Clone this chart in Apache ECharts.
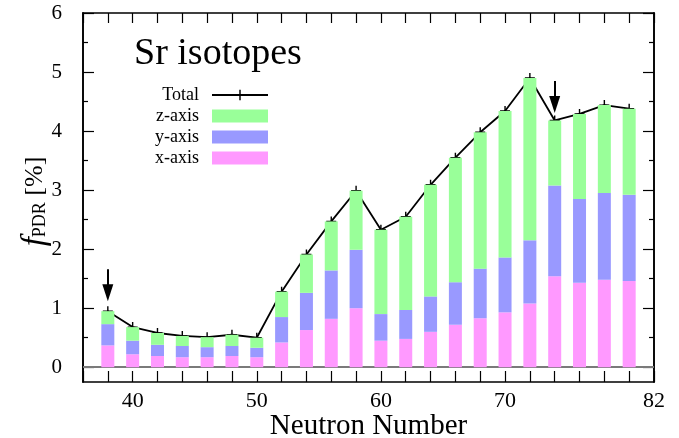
<!DOCTYPE html>
<html>
<head>
<meta charset="utf-8">
<script src="https://cdn.jsdelivr.net/npm/echarts@6/dist/echarts.min.js"></script>
<style>
  html, body { margin: 0; padding: 0; background: #fff; }
  #chart { width: 679px; height: 438px; }
</style>
</head>
<body>
<div id="chart"></div>
<script>
// PDR fraction per strontium isotope, split into the three axis components
const neutronNumbers = [38, 40, 42, 44, 46, 48, 50, 52, 54, 56, 58, 60, 62, 64, 66, 68, 70, 72, 74, 76, 78, 80];
const xAxisPart = [0.37, 0.22, 0.19, 0.17, 0.17, 0.19, 0.17, 0.42, 0.63, 0.82, 1.00, 0.45, 0.48, 0.60, 0.72, 0.83, 0.93, 1.08, 1.54, 1.43, 1.48, 1.46];
const yAxisPart = [0.36, 0.23, 0.19, 0.19, 0.17, 0.17, 0.16, 0.43, 0.63, 0.82, 0.99, 0.45, 0.49, 0.60, 0.72, 0.84, 0.93, 1.07, 1.54, 1.42, 1.47, 1.46];
const zAxisPart = [0.22, 0.23, 0.20, 0.17, 0.17, 0.19, 0.17, 0.43, 0.65, 0.83, 1.00, 1.43, 1.58, 1.89, 2.11, 2.31, 2.48, 2.75, 1.10, 1.44, 1.49, 1.46];

// axis range and tick labels
const xRange = [36, 82];
const xTickLabels = [40, 50, 60, 70, 82];
const yRange = [-0.25, 6];
const yTickLabels = [0, 1, 2, 3, 4, 5, 6];

// downward arrows: [neutron number, tail value, head centre value]
const arrowMarks = [[38, 1.66, 1.26], [74, 4.85, 4.45]];

const serif = 'Liberation Serif';

// one category slot every two neutrons across the full axis range
const categories = [];
for (let n = xRange[0]; n <= xRange[1]; n += 2) categories.push(String(n));
const slot = (arr) => categories.map(c => {
  const i = neutronNumbers.indexOf(+c);
  return i >= 0 ? arr[i] : null;
});
const totals = neutronNumbers.map((n, i) => +(xAxisPart[i] + yAxisPart[i] + zAxisPart[i]).toFixed(3));
const yMinorTicks = yTickLabels.slice(0, -1).map(v => v + 0.5);

const plusSymbol = 'path://M4.3,0H5.7V10H4.3ZM0,4.3H10V5.7H0Z';
const axisColor = '#000';

function yAxisDef(position, tickValues, tickLen, withLabels) {
  return {
    type: 'value', position: position, min: yRange[0], max: yRange[1],
    axisLine: { show: true, lineStyle: { color: axisColor, width: 1.6 } },
    axisTick: { show: true, inside: true, length: tickLen, customValues: tickValues,
      lineStyle: { color: axisColor, width: 1.2 } },
    axisLabel: {
      show: withLabels, margin: 21, fontFamily: serif, fontSize: 21, color: '#000',
      customValues: yTickLabels
    },
    splitLine: { show: false }
  };
}

function xAxisDef(position, tickLen, withLabels) {
  return {
    type: 'category', position: position, data: categories, boundaryGap: false,
    axisLine: { show: true, onZero: false, lineStyle: { color: axisColor, width: 1.6 } },
    axisTick: { show: true, inside: true, length: tickLen, interval: 0,
      lineStyle: { color: axisColor, width: 1.2 } },
    axisLabel: {
      show: withLabels, margin: 8, fontFamily: serif, fontSize: 22, color: '#000',
      interval: 0,
      formatter: v => (xTickLabels.indexOf(+v) >= 0 ? v : '')
    },
    splitLine: { show: false }
  };
}

const xBottom = xAxisDef('bottom', 11, true);
xBottom.name = 'Neutron Number';
xBottom.nameLocation = 'middle';
xBottom.nameGap = 30;
xBottom.nameMoveOverlap = false;
xBottom.nameTextStyle = { fontFamily: serif, fontSize: 29, color: '#000' };

const yLeft = yAxisDef('left', yTickLabels, 11, true);
yLeft.name = '{f|f}{sub|PDR} [%]';
yLeft.nameLocation = 'middle';
yLeft.nameRotate = 90;
yLeft.nameGap = 31;
yLeft.nameMoveOverlap = false;
yLeft.nameTextStyle = {
  fontFamily: serif, fontSize: 26, color: '#000', padding: [0, 8, 0, 0],
  rich: {
    f: { fontFamily: serif, fontStyle: 'italic', fontSize: 33, color: '#000' },
    sub: { fontFamily: serif, fontSize: 18, color: '#000', padding: [10, 0, 0, 0] }
  }
};

const barCommon = { type: 'bar', stack: 'pdr', barWidth: 13, xAxisIndex: 0, yAxisIndex: 0, z: 2 };

const option = {
  animation: false,
  backgroundColor: '#fff',
  title: {
    text: 'Sr isotopes', left: 134, top: 35, padding: 0,
    textStyle: { fontFamily: serif, fontSize: 38, fontWeight: 'normal', color: '#000' }
  },
  legend: {
    data: [
      { name: 'Total' },
      { name: 'z-axis', icon: 'rect' },
      { name: 'y-axis', icon: 'rect' },
      { name: 'x-axis', icon: 'rect' }
    ],
    orient: 'vertical', align: 'right', right: 410, top: 86, padding: 0,
    itemWidth: 56, itemHeight: 13, itemGap: 3, selectedMode: false,
    textStyle: { fontFamily: serif, fontSize: 18, color: '#000', padding: [0, 8, 0, 0] }
  },
  grid: { left: 83, right: 25, top: 13, bottom: 56, outerBoundsMode: 'none' },
  xAxis: [xBottom, xAxisDef('top', 10, false)],
  yAxis: [
    yLeft,
    yAxisDef('left', yMinorTicks, 5, false),
    yAxisDef('right', yTickLabels, 11, false),
    yAxisDef('right', yMinorTicks, 5, false)
  ],
  series: [
    {
      name: 'Total', type: 'line', data: slot(totals), z: 1,
      xAxisIndex: 0, yAxisIndex: 0,
      symbol: plusSymbol, symbolSize: 10,
      itemStyle: { color: '#000' },
      lineStyle: { color: '#000', width: 1.8 },
      silent: true,
      markLine: {
        silent: true, animation: false,
        symbol: ['none', 'triangle'],
        lineStyle: { color: '#000', width: 2, type: 'solid' },
        label: { show: false },
        emphasis: { disabled: true },
        data: arrowMarks.map(([n, tail, head]) => [
          { coord: [String(n), tail], symbol: 'none' },
          { coord: [String(n), head], symbol: 'triangle', symbolSize: [11, 17] }
        ])
      }
    },
    Object.assign({}, barCommon, {
      name: 'x-axis', data: slot(xAxisPart), itemStyle: { color: '#ff99ff' },
      markLine: {
        z: 1, silent: true, animation: false, symbol: ['none', 'none'],
        lineStyle: { color: '#7a7a7a', width: 2, type: 'solid' },
        label: { show: false },
        data: [{ yAxis: 0 }]
      }
    }),
    Object.assign({}, barCommon, { name: 'y-axis', data: slot(yAxisPart), itemStyle: { color: '#9999ff' } }),
    Object.assign({}, barCommon, { name: 'z-axis', data: slot(zAxisPart), itemStyle: { color: '#99ff99' } })
  ]
};

const chart = echarts.init(document.getElementById('chart'), null, { renderer: 'canvas' });
chart.setOption(option);
</script>
</body>
</html>
